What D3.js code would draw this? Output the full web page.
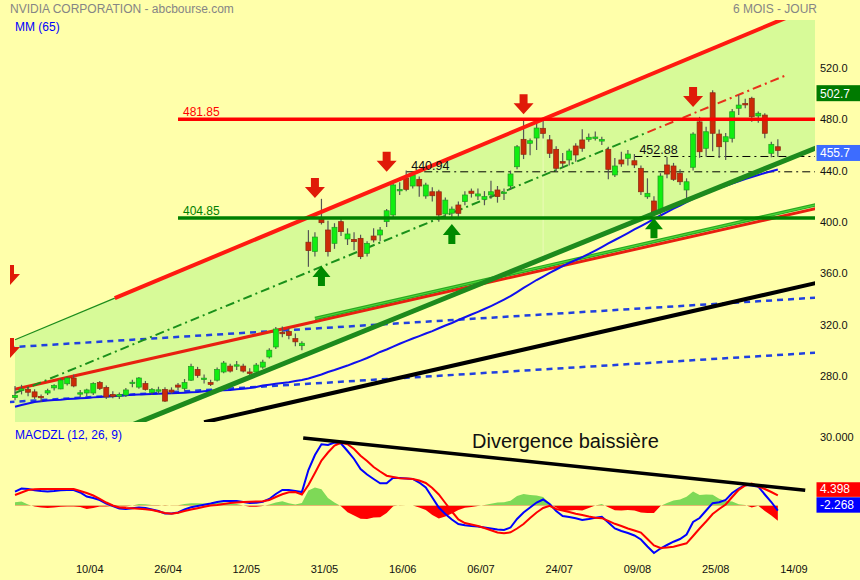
<!DOCTYPE html>
<html><head><meta charset="utf-8">
<script src="https://cdn.jsdelivr.net/npm/d3@7"></script>
<style>
html,body{margin:0;padding:0;background:#ffffaa;}
svg{display:block;font-family:"Liberation Sans",Arial,Helvetica,sans-serif;}
</style></head><body>
<svg id="c" width="860" height="580"></svg>
<script>
// ---------------- DATA ----------------
const tickIdx = [12,24,36,48,60,72,84,96,108,120];
const tickLabels = ["10/04","26/04","12/05","31/05","16/06","06/07","24/07","09/08","25/08","14/09"];
const priceTicks = [520,480,440,400,360,320,280];
const macdTicks = [30];

const open = [263.0,268.5,269.5,267.5,264.0,266.6,270.6,269.8,273.8,278.3,
266.0,266.6,266.6,274.8,271.0,265.5,264.0,265.0,274.5,271.2,
274.0,267.1,268.8,269.4,268.9,272.8,270.2,276.6,285.0,278.0,
274.8,276.6,283.0,287.6,288.2,287.6,283.0,283.0,286.8,294.7,
302.5,314.0,314.5,309.0,303.5,384.2,377.0,402.0,393.7,383.3,
400.2,386.7,386.4,387.2,375.5,389.0,389.8,400.2,405.4,424.8,
434.0,428.0,433.2,420.2,423.5,423.5,406.2,406.8,413.2,415.8,
424.0,420.2,417.6,421.0,424.9,422.5,428.0,443.0,464.4,461.3,
465.4,473.0,464.0,456.6,447.0,448.3,459.2,463.9,464.4,466.0,
463.0,456.6,436.6,448.3,449.6,447.7,441.8,419.6,416.3,409.8,
444.4,443.6,437.9,424.9,442.6,478.0,457.4,500.7,468.5,462.5,
465.2,488.6,492.3,496.4,482.6,483.3,453.5,458.6];
const high = [272.0,273.0,271.0,269.5,265.5,270.0,273.5,278.0,279.5,281.0,
269.0,270.0,275.0,276.0,272.5,268.0,267.0,270.5,277.0,279.0,
276.0,270.5,271.5,271.0,271.0,274.5,277.5,289.5,287.0,281.0,
277.0,286.5,291.5,289.5,291.5,289.5,286.0,290.0,292.5,301.5,
318.0,318.5,317.0,313.0,307.0,393.6,392.0,418.0,401.0,399.0,
403.5,395.0,392.0,390.0,385.0,395.0,396.0,410.0,431.0,431.0,
440.0,438.0,435.5,430.5,427.0,425.0,419.0,412.0,416.0,424.0,
426.0,426.0,424.0,432.0,428.0,426.0,440.0,460.0,480.9,465.0,
477.5,480.0,467.7,459.0,453.7,457.0,461.3,472.2,469.0,470.5,
466.4,458.6,449.8,454.7,456.0,452.9,444.0,434.0,420.0,438.0,
450.9,446.0,441.0,434.0,470.0,481.9,474.2,502.7,472.0,469.3,
488.0,499.0,496.0,497.6,486.0,484.7,462.5,464.4];
const low = [261.0,265.5,264.0,262.0,259.5,265.0,268.5,269.5,272.5,271.0,
263.5,264.0,265.0,269.0,262.0,262.5,262.0,263.5,271.0,270.0,
268.5,265.5,266.0,259.5,266.0,269.0,268.5,276.0,278.5,274.0,
272.0,275.5,282.0,282.5,284.5,282.5,280.5,282.0,285.5,293.5,
301.0,310.0,308.5,303.0,300.0,365.0,373.0,398.0,373.0,379.0,
389.0,382.0,378.0,371.0,373.0,384.0,385.0,396.0,403.0,421.0,
424.0,426.0,419.6,418.0,416.0,400.2,403.0,402.0,404.0,413.0,
419.0,417.0,413.0,418.0,415.0,417.0,425.0,441.0,449.0,452.0,
456.0,465.0,449.8,439.0,442.0,444.0,447.0,454.7,462.5,463.5,
460.0,433.2,435.0,443.0,444.0,442.0,421.0,418.0,405.0,404.0,
434.0,432.0,428.8,418.4,440.0,450.0,450.9,455.0,449.8,448.3,
462.0,483.4,488.7,478.1,477.4,465.2,450.4,450.9];
const close = [264.8,269.8,267.2,263.5,263.2,268.4,272.4,276.7,278.3,272.1,
266.8,269.0,274.0,270.2,263.5,264.0,265.5,269.0,275.0,278.3,
269.4,269.4,269.1,260.3,267.4,271.2,274.8,287.4,280.3,278.2,
273.3,285.0,290.0,283.7,288.6,283.7,282.2,288.4,290.7,300.0,
316.5,312.8,311.5,306.5,305.4,377.6,388.2,399.4,376.8,395.8,
392.4,390.6,384.6,372.9,383.3,385.9,393.7,408.7,428.8,425.3,
425.4,436.6,428.0,428.8,420.4,405.4,417.0,410.0,406.7,421.0,
422.3,421.8,419.7,423.5,419.7,423.2,437.4,458.6,452.7,463.3,
473.2,469.0,453.5,441.8,445.8,455.3,452.2,457.4,466.0,466.2,
464.3,441.0,443.6,445.2,452.9,444.4,423.5,422.3,408.0,435.8,
437.3,433.2,431.3,431.3,468.5,454.7,470.3,469.1,458.6,466.4,
485.9,491.1,491.8,482.0,484.7,469.1,460.5,455.7];

// MM (65)
const movingAvg = [255.9,257.2,258.4,259.6,260.2,260.7,261.1,261.4,261.9,262.2,
262.5,262.8,263.2,263.5,263.8,264.1,264.4,264.8,265.2,265.5,
265.7,265.9,266.1,266.3,266.4,266.6,266.8,267.1,267.4,267.9,
268.4,268.6,268.8,268.9,269.6,270.0,270.5,271.3,272.4,273.1,
273.8,274.4,275.0,275.9,276.7,277.9,279.5,281.0,283.0,284.5,
286.3,288.0,290.0,291.9,293.9,296.2,298.6,300.5,302.8,305.0,
307.1,309.1,311.0,313.0,314.9,317.1,319.2,321.2,323.5,325.7,
327.8,329.9,332.1,334.4,336.8,339.5,342.2,345.3,348.5,351.6,
354.7,357.4,360.2,362.9,365.6,368.0,370.3,372.6,375.0,377.7,
380.4,383.2,385.9,388.6,391.3,394.1,396.8,399.5,402.3,405.0,
407.7,410.3,412.8,415.4,417.9,420.2,422.3,424.5,426.4,428.2,
429.9,431.7,433.5,435.0,436.6,438.1,439.5,440.9];

// MACDZL (12,26,9)
const macdLine = [6.04,7.45,7.23,6.66,6.35,6.13,6.35,6.70,6.79,6.79,
5.69,3.94,3.29,2.41,0.88,-0.22,-1.31,-1.53,-1.18,-0.83,
-1.10,-1.75,-2.41,-3.50,-3.50,-3.07,-1.75,-0.74,-0.22,0.31,
0.88,1.53,1.97,1.97,1.97,1.53,1.10,1.23,1.66,2.85,
5.04,6.79,6.79,6.35,5.91,15.55,22.12,26.81,26.50,27.60,
27.16,23.87,20.37,15.99,13.58,11.61,9.72,9.72,12.18,12.05,
11.83,11.61,10.07,7.88,3.50,-0.88,-3.72,-6.13,-8.10,-8.67,
-8.98,-9.20,-9.64,-10.07,-10.51,-10.73,-9.64,-5.91,-3.07,-0.88,
1.31,2.63,0.66,-2.41,-4.60,-5.04,-5.61,-6.35,-5.91,-5.34,
-4.91,-7.45,-10.07,-11.17,-12.05,-13.14,-14.89,-17.96,-20.81,-18.83,
-17.30,-15.86,-14.67,-12.70,-7.23,-5.48,-2.19,1.01,1.40,2.41,
5.48,7.45,8.98,8.76,8.23,4.82,1.53,-2.27];
const signalLine = [4.60,5.69,6.79,7.14,7.23,7.23,7.23,7.23,7.23,7.23,
6.35,5.48,4.38,2.85,1.31,0.00,-0.88,-1.10,-1.23,-1.45,
-1.62,-1.97,-2.63,-3.29,-3.64,-3.20,-2.41,-1.75,-1.18,-0.57,
-0.04,0.22,0.66,1.10,1.31,1.53,1.66,1.75,1.88,2.41,
3.72,4.91,5.78,5.91,4.82,8.98,14.24,19.71,23.21,26.28,
27.46,26.81,24.75,21.81,19.49,16.86,14.89,13.05,12.48,11.91,
11.78,11.61,10.95,9.86,7.67,4.82,1.10,-2.63,-6.13,-7.67,
-8.32,-8.98,-9.86,-10.86,-11.83,-12.18,-11.74,-10.07,-8.10,-5.48,
-3.07,-1.10,-0.13,-1.53,-2.19,-2.85,-3.59,-4.16,-4.82,-5.39,
-5.56,-6.70,-8.02,-8.98,-10.07,-10.95,-11.83,-14.67,-17.52,-18.62,
-18.40,-18.05,-17.30,-16.56,-13.36,-10.07,-7.01,-3.72,-1.53,0.44,
3.72,6.88,8.76,9.64,8.32,7.23,5.91,4.40];

// drawn objects: [barIndex, price] anchor pairs
const channelUpper = [[-1,306.0],[125,573.4]];
const channelMiddle = [[0,266.6],[118,513.8]];
const channelLower = [[15,235.6],[125,462.1]];
const supportRed = [[0,269.5],[125,412.9]];
const supportGreen = [[46,324.7],[125,415.8]];
const longTermLine = [[29,243.8],[125,354.8]];
const blueUpper = [[-1,302.2],[125,341.6]];
const blueLower = [[-1,259.5],[125,298.7]];
const divergenceLine = [[44.2,29.57],[121.2,6.66]];

const levelValues = [481.85, 404.85];
const levelStart = [25, 25];
const pivotValues = [440.94, 452.88];
const pivotStart = [60, 95];

const sellSignals = [[-0.77,350.8],[-0.77,293.9],[46,418.6],[57,439.1],[78,483.9],[104,489.6]];
const buySignals = [[47,365.6],[67,398.4],[98,402.8]];

const lastClose = 455.7, maxHigh = 502.7;
const lastSignal = 4.398, lastMacd = -2.268;

// ---------------- SCALES ----------------
const svg = d3.select("#c");
const xScale = d3.scaleLinear().domain([-0.77, 122.7]).range([10, 815]);
const yScale = d3.scaleLinear().domain([244.0, 557.5]).range([422.0, 19.9]);
const macdY = d3.scaleLinear().domain([0, 30]).range([505.5, 437]);

const at = (ln, i) => ln[0][1] + (ln[1][1]-ln[0][1])*(i-ln[0][0])/(ln[1][0]-ln[0][0]);
const lineGen = d3.line().x(d=>xScale(d[0])).y(d=>yScale(d[1]));
const seg = (ln, i0, i1) => lineGen([[i0, at(ln,i0)],[i1, at(ln,i1)]]);

svg.append("rect").attr("width",860).attr("height",580).attr("fill","#ffffaa");
const defs = svg.append("defs");
defs.append("clipPath").attr("id","clipP").append("rect").attr("x",10).attr("y",20).attr("width",805).attr("height",402);
const zeroY = macdY(0);
defs.append("clipPath").attr("id","clipM").append("rect").attr("x",10).attr("y",425).attr("width",805).attr("height",135);
defs.append("clipPath").attr("id","clipPos").append("rect").attr("x",10).attr("y",425).attr("width",805).attr("height",zeroY-425);
defs.append("clipPath").attr("id","clipNeg").append("rect").attr("x",10).attr("y",zeroY).attr("width",805).attr("height",560-zeroY);

const P = svg.append("g").attr("clip-path","url(#clipP)");

// channel fill
const iR = 122.7;
P.append("path").attr("fill","#d7fa98")
 .attr("d", lineGen([[0,at(channelUpper,0)],[iR,at(channelUpper,iR)],[iR,at(channelLower,iR)],[0,at(channelLower,0)]]) + "Z");
// seam
P.append("path").attr("stroke","#eefab8").attr("stroke-width",1).attr("fill","none")
 .attr("d", lineGen([[81,at(channelLower,81)],[81,at(channelUpper,81)]]));

// blue dotted
[blueUpper, blueLower].forEach(ln=>{
  P.append("path").attr("d",seg(ln,-1,125)).attr("stroke","#2040e0").attr("stroke-width",2.5)
   .attr("stroke-dasharray","6,5").attr("fill","none");
});
// black long-term
P.append("path").attr("d",seg(longTermLine,29,125)).attr("stroke","#000").attr("stroke-width",4).attr("fill","none");
// red support & green overlay
P.append("path").attr("d",seg(supportRed,0,125)).attr("stroke","#e82010").attr("stroke-width",3).attr("fill","none");
P.append("path").attr("d",seg(supportGreen,46,125)).attr("stroke","#2aa820").attr("stroke-width",3.5).attr("fill","none");
P.append("path").attr("d",seg(supportGreen,46,125)).attr("stroke","#4fd83a").attr("stroke-width",1.2).attr("fill","none");
// mid dash-dot
P.append("path").attr("d",seg(channelMiddle,0,97)).attr("stroke","#1a901a").attr("stroke-width",2)
 .attr("stroke-dasharray","9,4,2,4").attr("fill","none");
P.append("path").attr("d",seg(channelMiddle,97,118)).attr("stroke","#e8301a").attr("stroke-width",2)
 .attr("stroke-dasharray","9,4,2,4").attr("fill","none");
// pivot dash-dot lines
pivotValues.forEach((v,k)=>{
  P.append("path").attr("d",lineGen([[pivotStart[k],v],[125,v]])).attr("transform","translate(0,2.4)")
   .attr("stroke","#000").attr("stroke-width",1).attr("stroke-dasharray","8,4,2,4").attr("fill","none");
});
// moving average
P.append("path").attr("d",lineGen(movingAvg.map((v,i)=>[i,v]))).attr("stroke","#1010ee").attr("stroke-width",2).attr("fill","none");

// candles
const C = P.append("g");
close.forEach((c,i)=>{
  const o = open[i], x = xScale(i);
  C.append("line").attr("x1",x).attr("x2",x).attr("y1",yScale(high[i])).attr("y2",yScale(low[i]))
   .attr("stroke","#555").attr("stroke-width",1.2);
  const up = c >= o;
  const yt = yScale(Math.max(o,c)), yb = yScale(Math.min(o,c));
  C.append("rect").attr("x",x-2.5).attr("y",yt).attr("width",5).attr("height",Math.max(1.4,yb-yt))
   .attr("fill", up ? "#11ee11" : "#cc2a08").attr("stroke", up ? "#229922" : "#8a2a10").attr("stroke-width",0.7);
});

// channel thick lines
P.append("path").attr("d",seg(channelUpper,0,15.3)).attr("stroke","#1c8c1c").attr("stroke-width",1.2).attr("fill","none");
P.append("path").attr("d",seg(channelUpper,15.3,125)).attr("stroke","#ff1a10").attr("stroke-width",4).attr("fill","none");
P.append("path").attr("d",seg(channelLower,15,125)).attr("stroke","#1d8a1d").attr("stroke-width",5).attr("fill","none");

// horizontal levels
const levelColors = ["#ff0000","#008000"];
levelValues.forEach((v,k)=>{
  P.append("path").attr("d",lineGen([[levelStart[k],v],[125,v]])).attr("transform","translate(0,2.4)")
   .attr("stroke",levelColors[k]).attr("stroke-width",3.5).attr("fill","none");
  P.append("text").attr("x",xScale(levelStart[k])+5).attr("y",yScale(v)-0.5)
   .attr("fill",levelColors[k]).attr("font-size",12).text(v.toFixed(2));
});
pivotValues.forEach((v,k)=>{
  P.append("text").attr("x",xScale(pivotStart[k])+5).attr("y",yScale(v)+ (k===0?1:-0.5))
   .attr("fill","#111").attr("font-size",12.5).text(v.toFixed(2));
});

// arrows
const downArrow = "M0,0 L-10,-11 L-4,-11 L-4,-20 L4,-20 L4,-11 L10,-11 Z";
const upArrow = "M0,0 L-9,11 L-3.5,11 L-3.5,20 L3.5,20 L3.5,11 L9,11 Z";
sellSignals.forEach(s=>{
  P.append("path").attr("d",downArrow).attr("fill","#e01a08")
   .attr("transform",`translate(${xScale(s[0])},${yScale(s[1])})`);
});
buySignals.forEach(s=>{
  P.append("path").attr("d",upArrow).attr("fill","#008a00")
   .attr("transform",`translate(${xScale(s[0])},${yScale(s[1])})`);
});

// ---------------- MACD panel ----------------
const M = svg.append("g").attr("clip-path","url(#clipM)");
const hist = macdLine.map((m,i)=>m - signalLine[i]);
const area = d3.area().x((d,i)=>xScale(i)).y0(zeroY).y1(d=>macdY(d));
M.append("g").attr("clip-path","url(#clipPos)").append("path").attr("d",area(hist)).attr("fill","#7ed957");
M.append("g").attr("clip-path","url(#clipNeg)").append("path").attr("d",area(hist)).attr("fill","#ff0000");
const mline = d3.line().x((d,i)=>xScale(i)).y(d=>macdY(d));
M.append("path").attr("d",mline(macdLine)).attr("stroke","#0000ff").attr("stroke-width",2).attr("fill","none");
M.append("path").attr("d",mline(signalLine)).attr("stroke","#ff0000").attr("stroke-width",2).attr("fill","none");
M.append("path").attr("d",d3.line().x(d=>xScale(d[0])).y(d=>macdY(d[1]))(divergenceLine))
 .attr("stroke","#000").attr("stroke-width",3.5).attr("fill","none");
svg.append("text").attr("x",472).attr("y",448).attr("font-size",20).attr("fill","#111").text("Divergence baissière");

// ---------------- axes ----------------
const pa = svg.append("g").attr("transform","translate(815,0)")
  .call(d3.axisRight(yScale).tickValues(priceTicks).tickSize(0).tickPadding(5).tickFormat(d3.format(".1f")));
pa.select(".domain").remove();
pa.selectAll("text").attr("font-size",11).attr("fill","#111").attr("font-family","Liberation Sans, Arial, sans-serif");

const ma = svg.append("g").attr("transform","translate(815,0)")
  .call(d3.axisRight(macdY).tickValues(macdTicks).tickSize(0).tickPadding(5).tickFormat(d3.format(".3f")));
ma.select(".domain").remove();
ma.selectAll("text").attr("font-size",11).attr("fill","#111").attr("font-family","Liberation Sans, Arial, sans-serif");

const xa = svg.append("g").attr("transform","translate(-4,561)")
  .call(d3.axisBottom(xScale).tickValues(tickIdx).tickSize(0).tickPadding(4).tickFormat((d,i)=>tickLabels[i]));
xa.select(".domain").remove();
xa.selectAll("text").attr("font-size",11).attr("fill","#111").attr("font-family","Liberation Sans, Arial, sans-serif");

// badges
function badge(y, h, color, label){
  svg.append("rect").attr("x",816.5).attr("y",y).attr("width",44).attr("height",h).attr("fill",color);
  svg.append("text").attr("x",820).attr("y",y+h-3.5).attr("font-size",12).attr("fill","#fff").text(label);
}
badge(yScale(maxHigh)-5, 16, "#007a00", maxHigh.toFixed(1));
badge(yScale(lastClose)-5.5, 16, "#3d6cff", lastClose.toFixed(1));
badge(macdY(lastSignal)-13.2, 14.6, "#ff0000", lastSignal.toFixed(3));
badge(macdY(lastMacd)-13.4, 15.4, "#0000ff", lastMacd.toFixed(3));

// titles
svg.append("text").attr("x",10).attr("y",12.5).attr("font-size",12).attr("fill","#858585").text("NVIDIA CORPORATION - abcbourse.com");
svg.append("text").attr("x",733).attr("y",12.5).attr("font-size",12).attr("fill","#858585").text("6 MOIS - JOUR");
svg.append("text").attr("x",15).attr("y",31).attr("font-size",12).attr("fill","#0000ff").text("MM (65)");
svg.append("text").attr("x",15).attr("y",439).attr("font-size",12).attr("fill","#0000ff").text("MACDZL (12, 26, 9)");
</script>
</body></html>
